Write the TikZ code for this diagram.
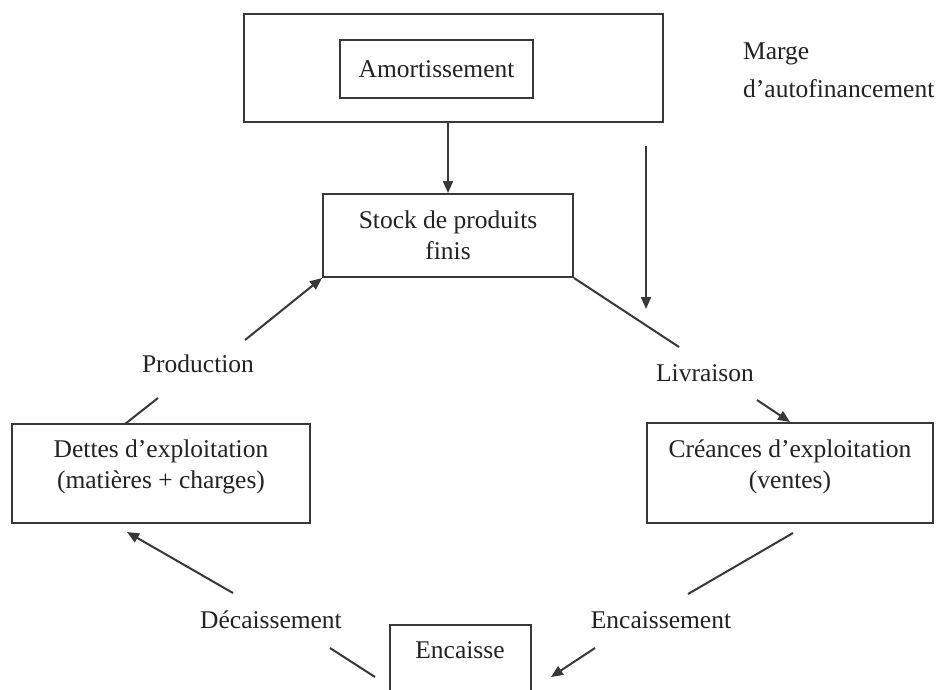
\documentclass[tikz,border=0pt]{standalone}
\usepackage{fontspec}
\setmainfont{Liberation Serif}
\usetikzlibrary{arrows.meta}
\definecolor{ink}{HTML}{222222}
\definecolor{edge}{HTML}{383838}
\begin{document}
\begin{tikzpicture}[x=1pt,y=-1pt,
  every node/.style={font=\fontsize{25.5}{31}\selectfont, text=ink},
  box/.style={draw=edge, line width=2pt, inner sep=0pt, align=center},
  lbl/.style={anchor=base, inner sep=0pt},
  conn/.style={draw=edge, line width=2pt},
  arr/.style={conn, -{Triangle[length=12pt,width=10pt]}},
]
% page frame
\fill[white] (0,0) rectangle (939,689);
\useasboundingbox (0,0) rectangle (939,689);

% boxes
\node[box, minimum width=419pt, minimum height=108pt] (maf) at (453.5,68) {};
\node[box, minimum width=193pt, minimum height=58pt] (amort) at (436.5,69) {Amortissement};
\node[box, minimum width=250pt, minimum height=83pt] (stock) at (448,235.5) {Stock de produits\\finis};
\node[box, minimum width=298pt, minimum height=99pt] (dettes) at (161,473.5) {};
\node[align=center, inner sep=0pt] (dettesT) at (161,467) {Dettes d’exploitation\\(matières + charges)};
\node[box, minimum width=286pt, minimum height=100pt] (creances) at (790,473) {};
\node[align=center, inner sep=0pt] (creancesT) at (790,467) {Créances d’exploitation\\(ventes)};
\node[box, minimum width=141pt, minimum height=72pt] (encaisse) at (460.5,661) {};
\node[lbl] (encaisseT) at (460,658) {Encaisse};

% labels
\node[anchor=base west, inner sep=0pt] (marge) at (743,59) {Marge};
\node[anchor=base west, inner sep=0pt] (margeB) at (743,97) {d’autofinancement};
\node[lbl] (production) at (198,372) {Production};
\node[lbl] (livraison) at (705,381) {Livraison};
\node[lbl] (encaissement) at (661,628) {Encaissement};
\node[lbl] (decaissement) at (271,628) {Décaissement};

% free ends of the connectors
\coordinate (margeTop) at (646,146);
\coordinate (margeEnd) at (646,309);
\coordinate (livA) at (679,347);
\coordinate (livB) at (757,400);
\coordinate (encA) at (793,533);
\coordinate (encB) at (688,594);
\coordinate (encC) at (595,648);
\coordinate (encD) at (551,677);
\coordinate (decA) at (330,648);
\coordinate (decB) at (375,677);
\coordinate (decC) at (233,593);
\coordinate (decD) at (127,532);
\coordinate (prodA) at (125,424);
\coordinate (prodB) at (158,398);
\coordinate (prodC) at (245,340);

% connectors
\draw[arr] (stock.north |- maf.south) -- (stock.north);
\draw[arr] (margeTop) -- (margeEnd);
\draw[conn] (stock.south east) -- (livA);
\draw[arr] (livB) -- (creances.north);
\draw[conn] (encA) -- (encB);
\draw[arr] (encC) -- (encD);
\draw[conn] (decA) -- (decB);
\draw[arr] (decC) -- (decD);
\draw[conn] (prodA) -- (prodB);
\draw[arr] (prodC) -- (stock.south west);
\end{tikzpicture}
\end{document}
